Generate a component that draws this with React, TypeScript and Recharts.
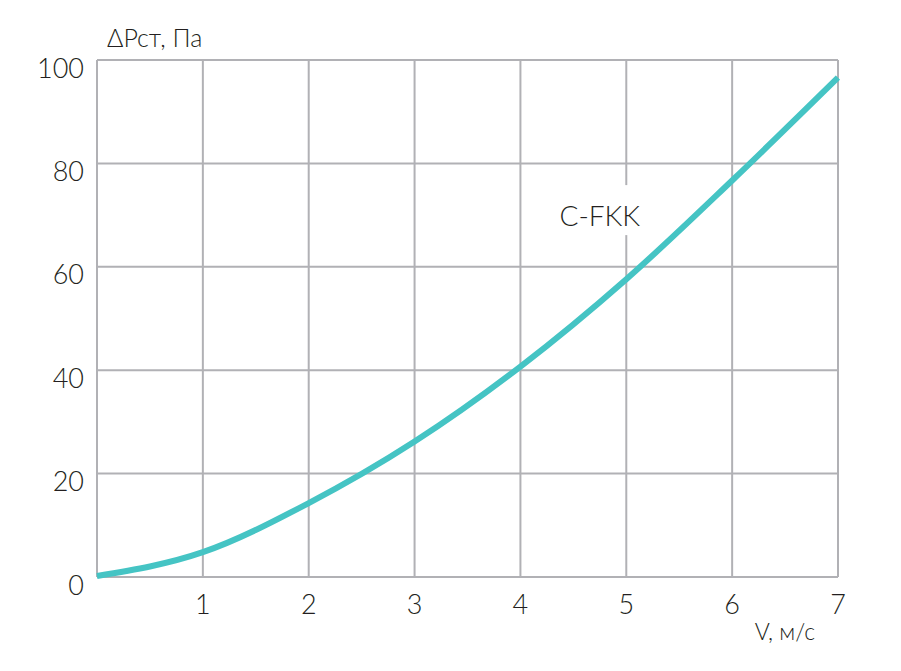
import React from 'react';
import { LineChart, Line, XAxis, YAxis, CartesianGrid, ReferenceDot } from 'recharts';

const velocity = [0, 1, 2, 3, 4, 5, 6, 7];
const pressure = [0.2, 4.8, 14.3, 26.2, 40.7, 57.6, 76.7, 96.6];
const xTicks = [0, 1, 2, 3, 4, 5, 6, 7];
const yTicks = [0, 20, 40, 60, 80, 100];
const seriesName = 'C-FKK';
const yTitle = 'ΔРст, Па';
const xTitle = 'V, м/с';
const labelPos = { x: 4.75, y: 70 };

const data = velocity.map((v, i) => ({ v, p: pressure[i] }));

const FONT = 'Lato, "Open Sans", sans-serif';
const TEXT = '#231f20';
const GRID = '#b1b1b5';

const SeriesLabel = (props: any) => {
  const { viewBox } = props;
  const cx = viewBox.x + (viewBox.width || 0) / 2;
  const cy = viewBox.y + (viewBox.height || 0) / 2;
  return (
    <g>
      <rect x={cx - 52} y={cy - 30} width={104} height={50} fill="#ffffff" />
      <text x={cx} y={cy} textAnchor="middle" dominantBaseline="central" fontFamily={FONT} fontWeight={300} fontSize={28} fill={TEXT}>
        {seriesName}
      </text>
    </g>
  );
};

export default function App() {
  return (
    <div style={{ position: 'absolute', left: 0, top: 0, width: 901, height: 671, background: '#fff' }}>
      <LineChart width={901} height={671} data={data} margin={{ top: 60, right: 63, bottom: 0, left: 0 }}>
        <CartesianGrid stroke={GRID} strokeWidth={2} horizontalValues={yTicks} verticalValues={xTicks} />
        <XAxis
          dataKey="v"
          type="number"
          domain={[0, 7]}
          ticks={xTicks}
          axisLine={false}
          tickLine={false}
          tickSize={0}
          tickMargin={18}
          height={94}
          interval={0}
          tickFormatter={(t: number) => (t === 0 ? '' : String(t))}
          tick={{ fontFamily: FONT, fontWeight: 300, fontSize: 27, fill: TEXT }}
        />
        <YAxis
          type="number"
          domain={[0, 100]}
          ticks={yTicks}
          axisLine={false}
          tickLine={false}
          tickSize={0}
          tickMargin={13}
          width={97}
          interval={0}
          tick={{ fontFamily: FONT, fontWeight: 300, fontSize: 27, fill: TEXT, dy: 8 }}
        />
        <Line
          type="monotone"
          dataKey="p"
          stroke="#45c4c4"
          strokeWidth={6}
          dot={false}
          activeDot={false}
          isAnimationActive={false}
        />
        <ReferenceDot x={labelPos.x} y={labelPos.y} r={0} fill="none" stroke="none" label={<SeriesLabel />} />
        <text x={107} y={37} dominantBaseline="central" fontFamily={FONT} fontWeight={300} fontSize={25} fill={TEXT}>{yTitle}</text>
        <text x={815} y={631} textAnchor="end" dominantBaseline="central" fontFamily={FONT} fontWeight={300} fontSize={23} fill={TEXT}>{xTitle}</text>
      </LineChart>
    </div>
  );
}
